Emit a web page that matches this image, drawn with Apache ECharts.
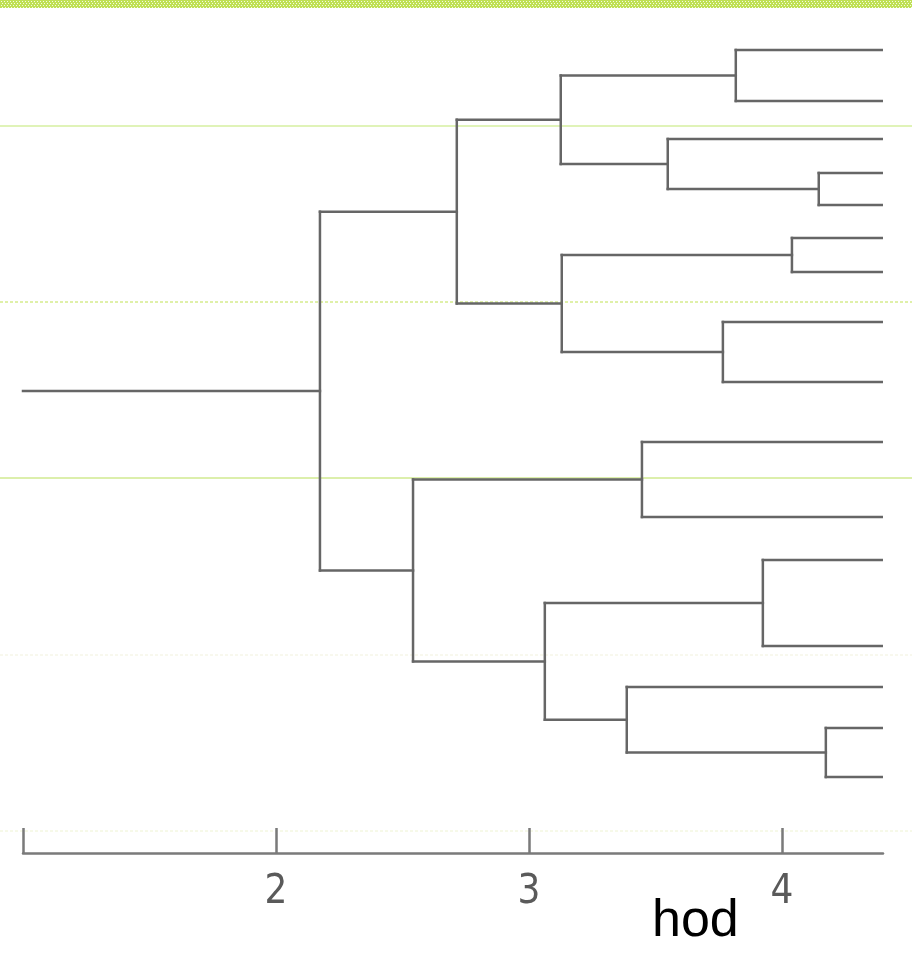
<!DOCTYPE html>
<html>
<head>
<meta charset="utf-8">
<script src="https://cdn.jsdelivr.net/npm/echarts@6/dist/echarts.min.js"></script>
<style>
  html, body { margin: 0; padding: 0; background: #fff; }
  #chart { width: 912px; height: 969px; }
</style>
</head>
<body>
<div id="chart"></div>
<script>
// ---- data ----
// vertical positions of the 16 leaves (top to bottom), in row units
const leafRows = [50, 101, 139, 173, 205, 238, 272, 322, 382, 442, 517, 560, 646, 687, 728, 777];
// hour value at which the leaf branches end
const leafEnd = 4.395;
// hour value where the root stem starts
const rootStart = 1.0;
// merges: [childA, childB, hour]; leaves are 0..15, merge k gets id 16+k
const merges = [
  [0, 1, 3.818],
  [3, 4, 4.146],
  [2, 17, 3.549],
  [16, 18, 3.126],
  [5, 6, 4.040],
  [7, 8, 3.767],
  [20, 21, 3.130],
  [19, 22, 2.715],
  [9, 10, 3.447],
  [11, 12, 3.925],
  [14, 15, 4.174],
  [13, 26, 3.387],
  [25, 27, 3.063],
  [24, 28, 2.542],
  [23, 29, 2.174]
];
const tickValues = [1, 2, 3, 4];
const labelValues = [2, 3, 4];
const axisName = 'hod';

// ---- build segments from the tree ----
const nodeY = leafRows.slice();
const nodeH = leafRows.map(() => leafEnd);
merges.forEach(m => {
  nodeY.push((nodeY[m[0]] + nodeY[m[1]]) / 2);
  nodeH.push(m[2]);
});
const segments = [];
merges.forEach((m) => {
  const h = m[2];
  segments.push([h, nodeY[m[0]], h, nodeY[m[1]]]);
  segments.push([h, nodeY[m[0]], nodeH[m[0]], nodeY[m[0]]]);
  segments.push([h, nodeY[m[1]], nodeH[m[1]], nodeY[m[1]]]);
});
const rootId = nodeY.length - 1;
segments.push([rootStart, nodeY[rootId], nodeH[rootId], nodeY[rootId]]);

// ---- decoration pattern for top band ----
const pc = document.createElement('canvas');
pc.width = 6; pc.height = 4;
const pctx = pc.getContext('2d');
pctx.fillStyle = '#bfe055';
pctx.fillRect(0, 0, 6, 4);
pctx.fillStyle = '#f4fbe2';
pctx.fillRect(1, 1, 1, 1);
pctx.fillRect(4, 1, 1, 1);
pctx.fillRect(2, 3, 1, 1);
pctx.fillRect(5, 3, 1, 1);

const chart = echarts.init(document.getElementById('chart'), null, { renderer: 'canvas' });
const lineColor = '#666666';

const option = {
  animation: false,
  backgroundColor: '#ffffff',
  grid: { left: 23, right: 29, top: 0, bottom: 116, containLabel: false },
  xAxis: {
    type: 'value',
    min: 1,
    max: 4.4,
    interval: 1,
    position: 'bottom',
    splitLine: { show: false },
    axisLine: { show: true, onZero: false, lineStyle: { color: '#7a7a7a', width: 2.5 } },
    axisTick: { show: true, inside: true, length: 25, customValues: tickValues, lineStyle: { color: '#7a7a7a', width: 2.5 } },
    axisLabel: {
      show: true,
      customValues: labelValues,
      margin: 20,
      color: '#5a5a5a',
      fontSize: 40,
      fontFamily: "'DejaVu Sans Condensed', 'Liberation Sans Narrow', sans-serif",
      fontWeight: 'lighter'
    }
  },
  yAxis: {
    type: 'value',
    inverse: true,
    min: 0,
    max: 853,
    show: false
  },
  graphic: [
    { type: 'rect', z: -10, shape: { x: 0, y: 0, width: 912, height: 8 }, style: { fill: { image: pc, repeat: 'repeat' } } },
    { type: 'line', z: -10, shape: { x1: 0, y1: 126, x2: 912, y2: 126 }, style: { stroke: '#d6efa0', lineWidth: 1.5 } },
    { type: 'line', z: -10, shape: { x1: 0, y1: 302, x2: 912, y2: 302 }, style: { stroke: '#bfe252', lineWidth: 1, lineDash: [3, 2] } },
    { type: 'line', z: -10, shape: { x1: 0, y1: 478, x2: 912, y2: 478 }, style: { stroke: '#b9df58', lineWidth: 1 } },
    { type: 'line', z: -10, shape: { x1: 0, y1: 655, x2: 912, y2: 655 }, style: { stroke: '#f1f1dc', lineWidth: 1, lineDash: [3, 2] } },
    { type: 'line', z: -10, shape: { x1: 0, y1: 831, x2: 912, y2: 831 }, style: { stroke: '#eef3d2', lineWidth: 1, lineDash: [3, 2] } },
    {
      type: 'text', z: 10, x: 652, y: 922,
      style: { text: axisName, fill: '#000', font: "52px 'Liberation Sans', Arial, sans-serif", verticalAlign: 'middle', align: 'left' }
    }
  ],
  series: [{
    type: 'custom',
    silent: true,
    clip: false,
    data: segments,
    encode: { x: [0, 2], y: [1, 3] },
    renderItem: function (params, api) {
      const p1 = api.coord([api.value(0), api.value(1)]);
      const p2 = api.coord([api.value(2), api.value(3)]);
      return {
        type: 'line',
        shape: { x1: p1[0], y1: p1[1], x2: p2[0], y2: p2[1] },
        style: { stroke: lineColor, lineWidth: 2.5, lineCap: 'square' }
      };
    }
  }]
};
chart.setOption(option);
</script>
</body>
</html>
